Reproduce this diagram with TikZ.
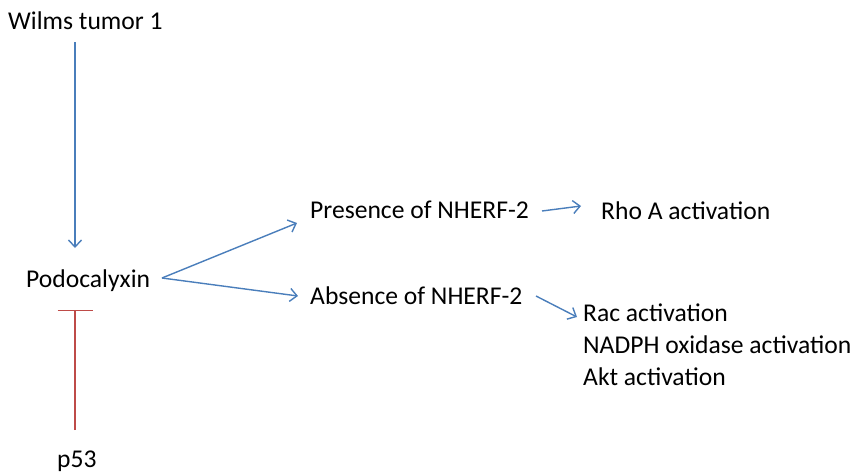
\documentclass[tikz,border=0pt]{standalone}
\usepackage{fontspec}
\setmainfont{Carlito}
\usetikzlibrary{arrows.meta}
\definecolor{lblue}{HTML}{4A7EBB}
\definecolor{lred}{HTML}{BE4B48}
\tikzset{
  lbl/.style={anchor=base west, inner sep=0pt, font=\fontsize{25.6}{32}\selectfont},
  arr/.style={draw=lblue, line width=1.4pt, -{Straight Barb[length=7pt,width=13pt,line width=1.4pt]}},
  inh/.style={draw=lred, line width=1.2pt, -{Bar[width=35pt,line width=1.2pt]}},
}
\begin{document}
\begin{tikzpicture}[x=1pt,y=-1pt]
\useasboundingbox (0,0) rectangle (852,474);
\node[lbl] (wilms) at (8,29) {Wilms tumor 1};
\node[lbl] (podo) at (26,287) {Podocalyxin};
\node[lbl] (pres) at (310,218) {Presence of NHERF-2};
\node[lbl] (rho) at (601,219) {Rho A activation};
\node[lbl] (abs) at (310,304) {Absence of NHERF-2};
\node[lbl] (rac) at (583,321) {Rac activation};
\node[lbl] (nadph) at (583,353) {NADPH oxidase activation};
\node[lbl] (akt) at (583,385) {Akt activation};
\node[lbl] (p53) at (57,467) {p53};
\coordinate (w1) at (75,42);
\coordinate (w2) at (75,248);
\coordinate (p1) at (162,278);
\coordinate (pr) at (297,223);
\coordinate (ab) at (298,296);
\coordinate (pr1) at (542,211);
\coordinate (pr2) at (581,206);
\coordinate (ab1) at (536,296);
\coordinate (ab2) at (577,317);
\coordinate (q1) at (75,430);
\coordinate (q2) at (75,310);
\draw[arr] (w1) -- (w2);
\draw[arr] (p1) -- (pr);
\draw[arr] (p1) -- (ab);
\draw[arr] (pr1) -- (pr2);
\draw[arr] (ab1) -- (ab2);
\draw[inh] (q1) -- (q2);
\end{tikzpicture}
\end{document}
